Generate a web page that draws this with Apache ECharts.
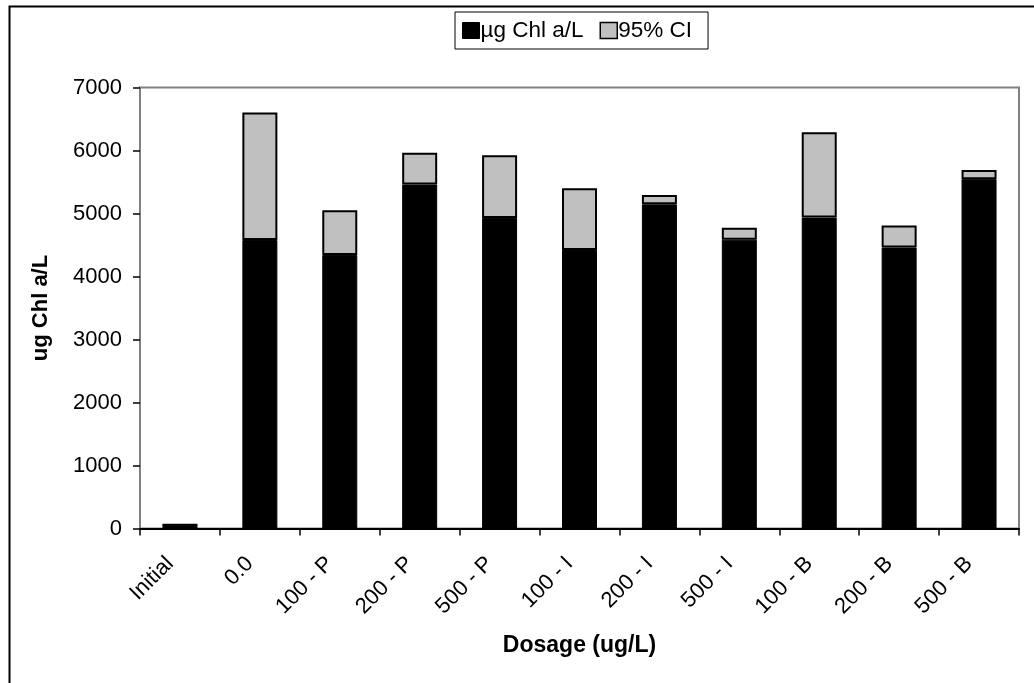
<!DOCTYPE html>
<html>
<head>
<meta charset="utf-8">
<script src="https://cdn.jsdelivr.net/npm/echarts@6/dist/echarts.min.js"></script>
<style>html,body{margin:0;padding:0;background:#fff;}#c{width:1034px;height:683px;}</style>
</head>
<body>
<div id="c"></div>
<script>
const categories = ['Initial','0.0','100 - P','200 - P','500 - P','100 - I','200 - I','500 - I','100 - B','200 - B','500 - B'];
const meanValues = [60, 4580, 4340, 5460, 4930, 4420, 5145, 4585, 4935, 4460, 5545];
const ciValues = [0, 2025, 710, 505, 995, 980, 150, 190, 1355, 350, 145];
const yTicks = [0, 1000, 2000, 3000, 4000, 5000, 6000, 7000];

const chart = echarts.init(document.getElementById('c'), null, {renderer: 'canvas'});
const font = 'Liberation Sans, Arial, sans-serif';
chart.setOption({
  animation: false,
  backgroundColor: '#fff',
  textStyle: {fontFamily: font},
  graphic: [{
    type: 'rect', left: 7, top: 4, shape: {x: 0, y: 0, width: 1100, height: 720},
    style: {fill: 'none', stroke: '#000', lineWidth: 2}, silent: true
  }],
  legend: {
    left: 455, top: 12,
    itemWidth: 17, itemHeight: 16, itemGap: 16,
    padding: [7, 16, 7, 7],
    borderColor: '#000', borderWidth: 1,
    textStyle: {fontFamily: font, fontSize: 22.5, color: '#000', padding: [0, 0, 0, -4]},
    data: [
      {name: 'µg Chl a/L', icon: 'rect', itemStyle: {color: '#000', borderColor: '#000', borderWidth: 1}},
      {name: '95% CI', icon: 'rect', itemStyle: {color: '#C0C0C0', borderColor: '#000', borderWidth: 1.5}}
    ]
  },
  grid: {
    left: 140, right: 15, top: 87.5, bottom: 154.5,
    show: true, borderColor: '#808080', borderWidth: 2, backgroundColor: '#fff'
  },
  xAxis: {
    type: 'category', data: categories,
    name: 'Dosage (ug/L)', nameLocation: 'middle', nameGap: 106,
    nameTextStyle: {fontFamily: font, fontSize: 23, fontWeight: 'bold', color: '#000'},
    axisLine: {lineStyle: {color: '#000', width: 2}},
    axisTick: {show: true, length: 7, lineStyle: {color: '#000', width: 1.5}},
    axisLabel: {rotate: 45, margin: 22, fontSize: 22, color: '#000', fontFamily: font, interval: 0,
      padding: [0, 14, 0, 0]}
  },
  yAxis: {
    type: 'value', min: 0, max: 7000, interval: 1000,
    name: 'ug Chl a/L', nameLocation: 'middle', nameGap: 88,
    nameTextStyle: {fontFamily: font, fontSize: 22, fontWeight: 'bold', color: '#000'},
    axisLine: {show: true, lineStyle: {color: '#808080', width: 2}},
    axisTick: {show: true, length: 7, lineStyle: {color: '#000', width: 1.5}},
    splitLine: {show: false},
    axisLabel: {margin: 18, fontSize: 22, color: '#000', fontFamily: font,
      formatter: v => yTicks.includes(v) ? String(v) : ''}
  },
  series: [
    {name: 'µg Chl a/L', type: 'bar', stack: 's', data: meanValues, barWidth: 35,
     itemStyle: {color: '#000', borderColor: '#000', borderWidth: 1}},
    {name: '95% CI', type: 'bar', stack: 's', data: ciValues, barWidth: 35,
     itemStyle: {color: '#C0C0C0', borderColor: '#000', borderWidth: 2}}
  ]
});
</script>
</body>
</html>
